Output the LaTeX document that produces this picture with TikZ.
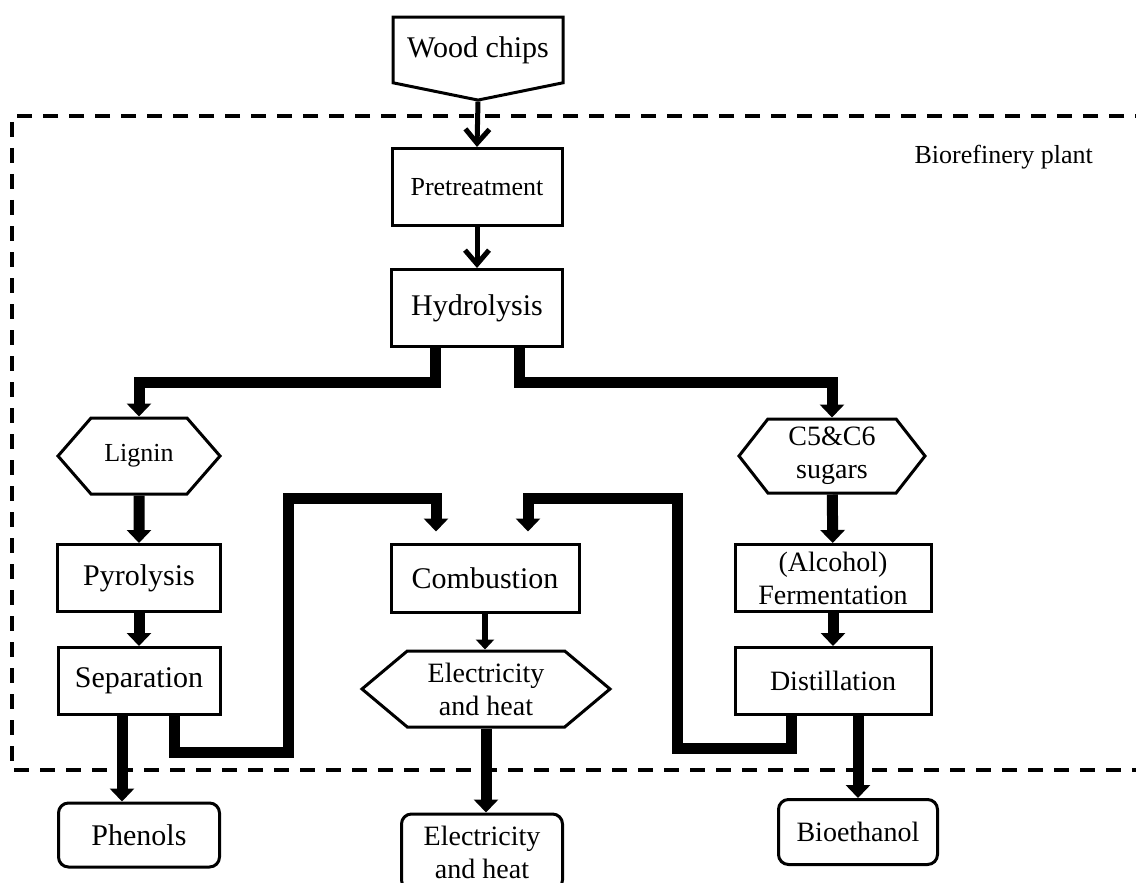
\documentclass[tikz,border=0pt]{standalone}
\usepackage{fontspec}
\setmainfont{Liberation Serif}
\usetikzlibrary{arrows.meta,shapes.symbols,calc}

\tikzset{
  procbox/.style={draw, line width=1.5pt, inner sep=0pt, align=center},
  hexbox/.style={draw, line width=1.5pt, shape=signal, signal to=west and east, inner sep=0pt, align=center},
  outbox/.style={draw, line width=1.5pt, rounded corners=5pt, inner sep=0pt, align=center},
  bigtext/.style={font=\fontsize{15}{18}\selectfont},
  midtext/.style={font=\fontsize{14}{16.5}\selectfont},
  smalltext/.style={font=\fontsize{13}{16}\selectfont},
  thinarrow/.style={line width=2.5pt, -{Straight Barb[length=7pt,width=12pt,line width=2.5pt]}},
  midarrow/.style={line width=3pt, -{Triangle[length=5pt,width=9pt]}},
  thickarrow/.style={line width=5.5pt, -{Triangle[length=6.5pt,width=12pt]}},
  thickline/.style={line width=5.5pt},
  boundary/.style={line width=2pt, dash pattern=on 7.5pt off 5.5pt},
}

\begin{document}
\begin{tikzpicture}[x=0.5pt, y=-0.5pt]
\useasboundingbox (0,0) rectangle (1136,883);

% plant boundary
\draw[boundary] (1150,116) -- (12,116) -- (12,770) -- (1150,770);
\node[smalltext, anchor=east] (plant) at (1100,157) {Biorefinery plant};

% main column
\node[procbox, bigtext, shape=signal, signal to=south, signal pointer angle=157,
      minimum width=85pt, minimum height=40pt] (wood) at (478,50) {Wood chips};
\node[procbox, smalltext, minimum width=85pt, minimum height=38.5pt] (pre) at (477,187) {Pretreatment};
\node[procbox, bigtext, minimum width=85.5pt, minimum height=38.5pt] (hyd) at (477,308) {Hydrolysis};

% intermediates
\node[hexbox, smalltext, signal pointer angle=98, minimum width=81pt, minimum height=38pt] (lig) at (139,456) {Lignin};
\node[hexbox, midtext, signal pointer angle=104, minimum width=93pt, minimum height=37pt] (sug) at (832,456) {C5\&C6\\sugars};

% process row
\node[procbox, bigtext, minimum width=81.5pt, minimum height=33.5pt] (pyr) at (139,578) {Pyrolysis};
\node[procbox, bigtext, minimum width=94pt, minimum height=34pt] (com) at (485,578) {Combustion};
\node[procbox, midtext, minimum width=98pt, minimum height=33.5pt] (fer) at (833,578) {(Alcohol)\\Fermentation};
\node[procbox, bigtext, minimum width=81pt, minimum height=33.5pt] (sep) at (139,681) {Separation};
\node[hexbox, midtext, signal pointer angle=80, minimum width=124pt, minimum height=38pt] (ele) at (486,689) {Electricity\\and heat};
\node[procbox, midtext, minimum width=98pt, minimum height=33.5pt] (dis) at (833,681) {Distillation};

% products
\node[outbox, bigtext, minimum width=80.5pt, minimum height=32pt] (phe) at (139,835) {Phenols};
\node[outbox, midtext, minimum width=80.5pt, minimum height=38pt] (eleo) at (482,852) {Electricity\\and heat};
\node[outbox, midtext, minimum width=79.5pt, minimum height=32.5pt] (bio) at (858,832) {Bioethanol};

% helper points
\coordinate (split) at (0,382);
\coordinate (feed) at (0,498);
\coordinate (hydL) at ($(hyd.south)+(-42,0)$);
\coordinate (hydR) at ($(hyd.south)+(42,0)$);
\coordinate (sepA) at ($(sep.south)+(-17,0)$);
\coordinate (sepB) at ($(sep.south)+(35,0)$);
\coordinate (disA) at ($(dis.south)+(25,0)$);
\coordinate (disB) at ($(dis.south)+(-42,0)$);
\coordinate (loopL) at (288,752);
\coordinate (loopR) at (677,748);
\coordinate (combL) at ($(com.north)+(-49,-11)$);
\coordinate (combR) at ($(com.north)+(43,-11)$);

% connectors
\draw[thinarrow] (wood.south) -- (pre.north);
\draw[thinarrow] (pre) -- (hyd);
\draw[thickarrow] (hydL) -- (hydL |- split) -| (lig.north);
\draw[thickarrow] (hydR) -- (hydR |- split) -| (sug.north);
\draw[thickarrow] (lig) -- (pyr);
\draw[thickarrow] (pyr) -- (sep);
\draw[thickarrow] (sug) -- (fer);
\draw[thickarrow] (fer) -- (dis);
\draw[thickarrow] (sepA) -- (sepA |- phe.north);
\draw[thickarrow] (sepB) |- (loopL) -- (loopL |- feed) -| (combL);
\draw[thickarrow] (disB) |- (loopR) -- (loopR |- feed) -| (combR);
\draw[midarrow] (com.south) -- (com.south |- ele.north);
\draw[thickarrow] (ele.south) -- (ele.south |- eleo.north);
\draw[thickarrow] (disA) -- (disA |- bio.north);
\end{tikzpicture}
\end{document}
